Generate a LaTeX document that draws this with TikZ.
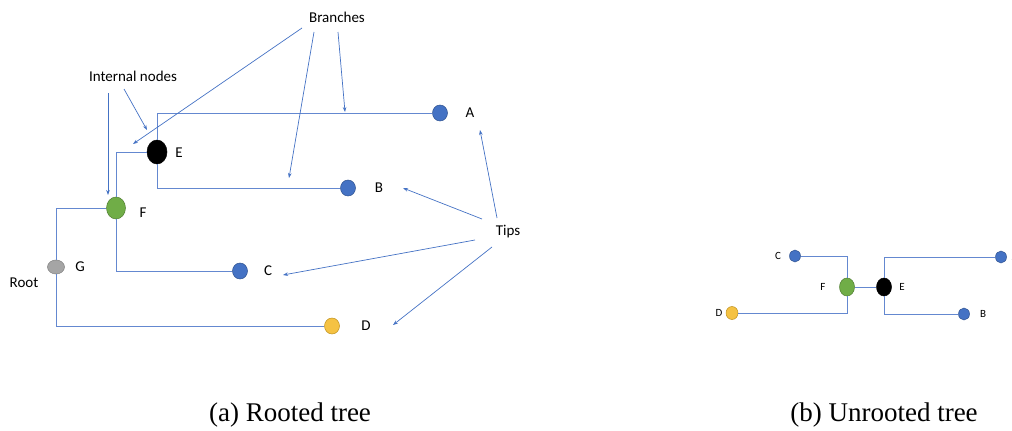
\documentclass[tikz,border=0pt]{standalone}
\usepackage{fontspec}
\newfontfamily\labelfont{Carlito}
\newfontfamily\capfont{Liberation Serif}
\usetikzlibrary{shapes.geometric,arrows.meta}

\definecolor{edgeblue}{RGB}{100,136,208}
\definecolor{arrowblue}{RGB}{68,114,196}
\definecolor{tipblue}{RGB}{68,114,196}
\definecolor{tipblueline}{RGB}{47,82,143}
\definecolor{nodegreen}{RGB}{112,173,71}
\definecolor{nodegreenline}{RGB}{80,126,50}
\definecolor{rootgray}{RGB}{165,165,165}
\definecolor{rootgrayline}{RGB}{130,130,130}
\definecolor{tipyellow}{RGB}{245,194,67}
\definecolor{tipyellowline}{RGB}{190,145,30}

\tikzset{
  treenode/.style={ellipse, inner sep=0pt, line width=0.5pt},
  leafblue/.style={treenode, fill=tipblue, draw=tipblueline},
  leafyellow/.style={treenode, fill=tipyellow, draw=tipyellowline},
  innergreen/.style={treenode, fill=nodegreen, draw=nodegreenline},
  innerblack/.style={treenode, fill=black, draw=black},
  rootnode/.style={treenode, fill=rootgray, draw=rootgrayline},
  bigleaf/.style={minimum width=15pt, minimum height=16pt},
  smallleaf/.style={minimum width=12pt, minimum height=13pt},
  edge/.style={draw=edgeblue, line width=0.9pt},
  pointer/.style={draw=arrowblue, line width=0.7pt, -{Stealth[length=5pt,width=3.6pt]}},
  lbl/.style={font=\labelfont\fontsize{15}{18}\selectfont, inner sep=0pt},
  smalllbl/.style={font=\labelfont\fontsize{11}{13}\selectfont, inner sep=0pt},
  caption/.style={font=\capfont\fontsize{27}{31}\selectfont, inner sep=0pt},
}

\begin{document}
\begin{tikzpicture}[x=1pt, y=-1pt]
\useasboundingbox (0,0) rectangle (1012,431);
\clip (0,0) rectangle (1012,431);

% ---------- rooted tree ----------
\node[leafblue, bigleaf] (A) at (440,113) {};
\node[innerblack, minimum width=20pt, minimum height=24pt] (E) at (157,152) {};
\node[leafblue, bigleaf] (B) at (348,188) {};
\node[innergreen, minimum width=19pt, minimum height=22pt] (F) at (116,208) {};
\node[rootnode, minimum width=17pt, minimum height=14pt] (G) at (56,267) {};
\node[leafblue, bigleaf] (C) at (240,271) {};
\node[leafyellow, bigleaf] (D) at (332,326) {};

\node[lbl] (Alab) at (470,113) {A};
\node[lbl] (Elab) at (179,153) {E};
\node[lbl] (Blab) at (379,188) {B};
\node[lbl] (Flab) at (143,213) {F};
\node[lbl] (Glab) at (80,267) {G};
\node[lbl] (Clab) at (268,271) {C};
\node[lbl] (Dlab) at (366,326) {D};
\node[lbl] (Root) at (24,283) {Root};

\draw[edge] (E.north) |- (A.west);
\draw[edge] (E.south) |- (B.west);
\draw[edge] (E.west) -| (F.north);
\draw[edge] (F.west) -| (G.north);
\draw[edge] (G.south) |- (D.west);
\draw[edge] (F.south) |- (C.west);

% annotations
\node[lbl] (branches) at (337,17) {Branches};
\node[lbl] (internal) at (133,76) {Internal nodes};
\node[lbl] (tips) at (508,232) {Tips};

\coordinate (brA) at (302,28);
\coordinate (brB) at (314,32);
\coordinate (brC) at (338,32);
\coordinate (brEndA) at (133,144);
\coordinate (brEndB) at (289,178);
\coordinate (brEndC) at (345,112);
\draw[pointer] (brA) -- (brEndA);
\draw[pointer] (brB) -- (brEndB);
\draw[pointer] (brC) -- (brEndC);

\coordinate (inA) at (108,93);
\coordinate (inB) at (124,89);
\coordinate (inEndA) at (108,195);
\coordinate (inEndB) at (147,130);
\draw[pointer] (inA) -- (inEndA);
\draw[pointer] (inB) -- (inEndB);

\coordinate (tpA) at (497,218);
\coordinate (tpB) at (482,219);
\coordinate (tpC) at (475,240);
\coordinate (tpD) at (492,247);
\coordinate (tpEndA) at (480,130);
\coordinate (tpEndB) at (403,188);
\coordinate (tpEndC) at (283,275);
\coordinate (tpEndD) at (393,325);
\draw[pointer] (tpA) -- (tpEndA);
\draw[pointer] (tpB) -- (tpEndB);
\draw[pointer] (tpC) -- (tpEndC);
\draw[pointer] (tpD) -- (tpEndD);

% ---------- unrooted tree ----------
\node[leafblue, minimum width=11pt, minimum height=12pt] (C2) at (795,256) {};
\node[leafblue, minimum width=11pt, minimum height=12pt] (A2) at (1001,257) {};
\node[innergreen, minimum width=15pt, minimum height=18pt] (F2) at (847,287) {};
\node[innerblack, minimum width=15pt, minimum height=18pt] (E2) at (884,287) {};
\node[leafyellow, smallleaf] (D2) at (732,313) {};
\node[leafblue, minimum width=11pt, minimum height=12pt] (B2) at (964,314) {};

\node[smalllbl] (C2lab) at (778,256) {C};
\node[smalllbl] (A2lab) at (1015,257) {A};
\node[smalllbl] (F2lab) at (823,287) {F};
\node[smalllbl] (E2lab) at (902,287) {E};
\node[smalllbl] (D2lab) at (719,313) {D};
\node[smalllbl] (B2lab) at (983,314) {B};

\draw[edge] (C2.east) -| (F2.north);
\draw[edge] (F2.south) |- (D2.east);
\draw[edge] (F2.east) -- (E2.west);
\draw[edge] (E2.north) |- (A2.west);
\draw[edge] (E2.south) |- (B2.west);

% ---------- captions ----------
\node[caption] (capa) at (290,415) {(a) Rooted tree};
\node[caption] (capb) at (884,415) {(b) Unrooted tree};
\end{tikzpicture}
\end{document}
